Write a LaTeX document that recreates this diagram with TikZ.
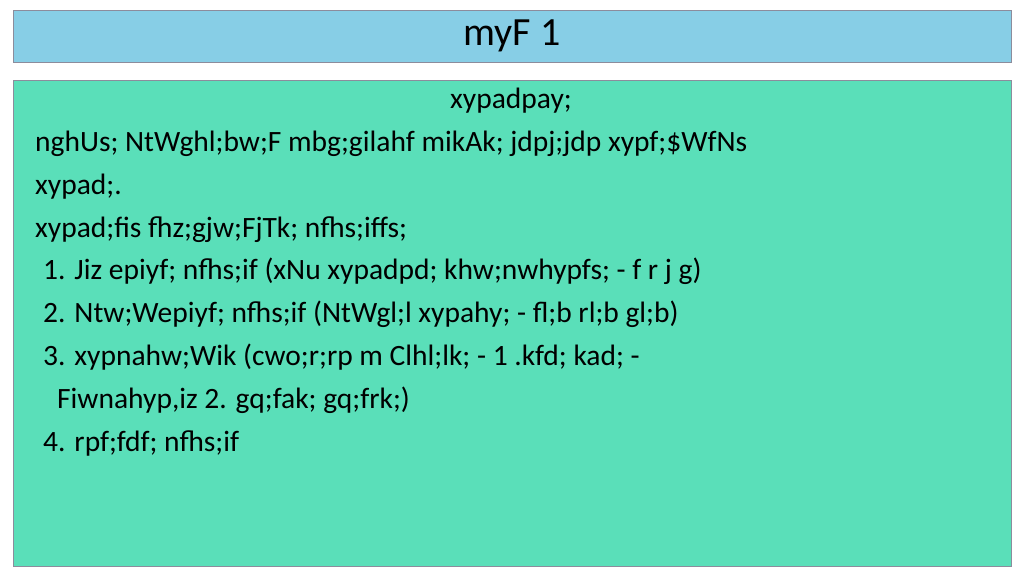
\documentclass[tikz,border=0pt]{standalone}
\usepackage{fontspec}
\setmainfont{Carlito}
\usepackage{xcolor}
\definecolor{titlefill}{HTML}{87CEE6}
\definecolor{bodyfill}{HTML}{5ADFB9}
\definecolor{edge}{HTML}{8C8C9C}
\tikzset{
  line/.style={anchor=base west, inner sep=0pt, font=\fontsize{29.5}{34}\selectfont},
}

\begin{document}
\begin{tikzpicture}[x=1pt, y=-1pt]
        \useasboundingbox (0, 0) rectangle (1024, 576);
        \draw[edge, fill = titlefill] (13, 10) rectangle (1011, 62);
        \draw[edge, fill = bodyfill] (13, 80) rectangle (1011, 566);

        \node[inner sep=0pt, font=\fontsize{40}{44}\selectfont] (title) at (512, 36) {myF 1};

        \node[line] (l0) at (450, 108) {xypadpay;};
        \node[line] (l1) at (35, 151) {nghUs; NtWghl;bw;F mbg;gilahf mikAk; jdpj;jdp xypf;\$WfNs};
        \node[line] (l2) at (35, 194) {xypad;.};
        \node[line] (l3) at (35, 237) {xypad;fis fhz;gjw;FjTk; nfhs;iffs;};
        \node[line] (l4) at (43, 279) {1. Jiz epiyf; nfhs;if (xNu xypadpd; khw;nwhypfs; - f r j g)};
        \node[line] (l5) at (43, 322) {2. Ntw;Wepiyf; nfhs;if (NtWgl;l xypahy; - fl;b rl;b gl;b)};
        \node[line] (l6) at (43, 365) {3. xypnahw;Wik (cwo;r;rp m Clhl;lk; - 1 .kfd; kad; -};
        \node[line] (l7) at (57, 408) {Fiwnahyp,iz 2. gq;fak; gq;frk;)};
        \node[line] (l8) at (43, 451) {4. rpf;fdf; nfhs;if};
    \end{tikzpicture}
\end{document}
